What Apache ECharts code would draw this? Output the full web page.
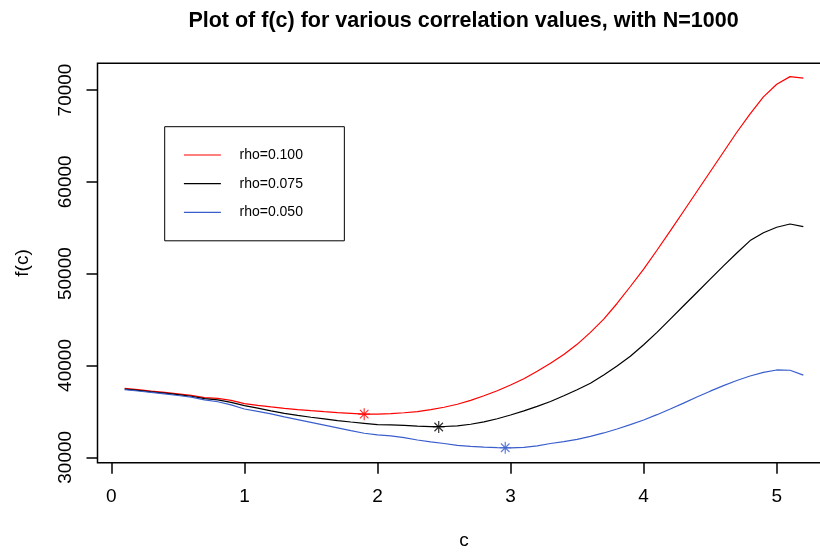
<!DOCTYPE html>
<html>
<head>
<meta charset="utf-8">
<script src="https://cdn.jsdelivr.net/npm/echarts@6/dist/echarts.min.js"></script>
<style>html,body{margin:0;padding:0;background:#fff}#main{width:820px;height:554px}</style>
</head>
<body>
<div id="main"></div>
<script>
var cValues = [0.1,0.2,0.3,0.4,0.5,0.6,0.7,0.8,0.9,1.0,
  1.1,1.2,1.3,1.4,1.5,1.6,1.7,1.8,1.9,2.0,
  2.1,2.2,2.3,2.4,2.5,2.6,2.7,2.8,2.9,3.0,
  3.1,3.2,3.3,3.4,3.5,3.6,3.7,3.8,3.9,4.0,
  4.1,4.2,4.3,4.4,4.5,4.6,4.7,4.8,4.9,5.0,
  5.1,5.2];
var rho100 = [37520,37370,37210,37060,36900,36740,36500,36420,36200,35850,
  35650,35480,35330,35200,35080,34970,34870,34790,34700,34710,
  34760,34850,34980,35200,35450,35780,36200,36700,37250,37870,
  38560,39380,40240,41200,42300,43600,45050,46750,48600,50500,
  52550,54650,56800,58950,61100,63250,65400,67400,69250,70630,
  71460,71300];
var rho075 = [37420,37280,37130,36980,36820,36650,36380,36250,35980,35620,
  35350,35060,34790,34560,34360,34180,34000,33840,33700,33560,
  33520,33480,33400,33330,33350,33420,33600,33850,34200,34610,
  35050,35550,36080,36700,37350,38060,38950,39950,41000,42250,
  43600,45050,46500,47950,49400,50850,52250,53600,54450,55050,
  55410,55120];
var rho050 = [37370,37220,37060,36900,36730,36550,36250,36050,35700,35260,
  35000,34720,34410,34110,33810,33510,33210,32910,32620,32450,
  32330,32150,31880,31680,31500,31300,31180,31100,31050,31030,
  31080,31250,31500,31700,31950,32280,32650,33080,33550,34060,
  34640,35260,35900,36560,37200,37800,38360,38850,39250,39510,
  39480,38950];
var seriesNames = ['rho=0.100','rho=0.075','rho=0.050'];
var minC = [1.9, 2.46, 2.96];
var minF = [34700, 33300, 31040];
var xTicks = [0,1,2,3,4,5];
var yTicks = [30000,40000,50000,60000,70000];

var colors = ['#ff0000','#000000','#3a5fcd'];
var FONT = '"Liberation Sans", Arial, Helvetica, sans-serif';
function pairs(ys){ return cValues.map(function(c,i){ return [c, ys[i]]; }); }

var chart = echarts.init(document.getElementById('main'), null, {renderer:'canvas'});
var starPath = 'path://M0,-1L0,1M-1,0L1,0M-0.71,-0.71L0.71,0.71M-0.71,0.71L0.71,-0.71';
chart.setOption({
  animation: false,
  backgroundColor: '#fff',
  title: {
    text: 'Plot of f(c) for various correlation values, with N=1000',
    left: 463.5, top: 10, padding: 0, textAlign: 'center',
    textStyle: {fontFamily: FONT, fontSize: 21.5, fontWeight: 'bold', color: '#000'}
  },
  legend: {
    data: seriesNames,
    orient: 'vertical',
    left: 164.7, top: 126.7,
    padding: [21.3, 41.4, 21.4, 18.6],
    itemWidth: 37, itemHeight: 14, itemGap: 14.7,
    icon: 'line',
    itemStyle: {borderWidth: 1.2},
    borderColor: '#000', borderWidth: 1, backgroundColor: '#fff',
    selectedMode: false,
    textStyle: {fontFamily: FONT, fontSize: 14, color: '#000', lineHeight: 14, padding: [0,0,0,13.6]}
  },
  grid: {left: 97.5, top: 63.3, width: 733, height: 399.4, show: true, borderColor: '#000', borderWidth: 1.5, backgroundColor: 'transparent', outerBoundsMode: 'none', containLabel: false},
  xAxis: {
    type: 'value', min: -0.104, max: 5.404,
    axisLine: {show: false, onZero: false},
    axisTick: {show: true, customValues: xTicks, length: 11, lineStyle: {color: '#000', width: 1.5}},
    axisLabel: {customValues: xTicks, color: '#000', fontFamily: FONT, fontSize: 19, margin: 25, formatter: function(v){return String(v);}},
    splitLine: {show: false},
    name: 'c', nameLocation: 'middle', nameGap: 69,
    nameTextStyle: {fontFamily: FONT, fontSize: 19, color: '#000'}
  },
  yAxis: {
    type: 'value', min: 29410, max: 72910,
    axisLine: {show: false, onZero: false},
    axisTick: {show: true, customValues: yTicks, length: 11, lineStyle: {color: '#000', width: 1.5}},
    axisLabel: {customValues: yTicks, rotate: 90, color: '#000', fontFamily: FONT, fontSize: 19, margin: 22, formatter: function(v){return String(v);}},
    splitLine: {show: false},
    name: 'f(c)', nameLocation: 'middle', nameGap: 65.5,
    nameTextStyle: {fontFamily: FONT, fontSize: 19, color: '#000'}
  },
  series: [
    {name: seriesNames[0], type: 'line', data: pairs(rho100), symbol: 'none', lineStyle: {color: colors[0], width: 1.2}, itemStyle: {color: colors[0], borderColor: colors[0]}},
    {name: seriesNames[1], type: 'line', data: pairs(rho075), symbol: 'none', lineStyle: {color: colors[1], width: 1.2}, itemStyle: {color: colors[1], borderColor: colors[1]}},
    {name: seriesNames[2], type: 'line', data: pairs(rho050), symbol: 'none', lineStyle: {color: colors[2], width: 1.2}, itemStyle: {color: colors[2], borderColor: colors[2]}},
    {name: 'minima', type: 'scatter', symbol: starPath, symbolSize: 12,
     data: minC.map(function(c,i){ return {value: [c, minF[i]], itemStyle: {color: 'none', borderColor: colors[i], borderWidth: 1.2}}; })}
  ]
});
</script>
</body>
</html>
